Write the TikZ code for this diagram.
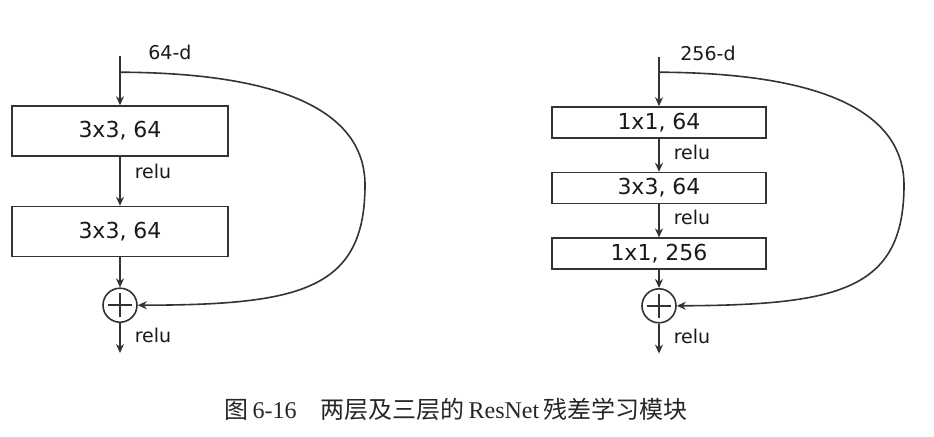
\documentclass[tikz,border=0pt]{standalone}
\usepackage{fontspec}
\setmainfont{DejaVu Sans}
\newfontfamily\cjk{Noto Sans CJK SC}
\newfontfamily\capfont{Liberation Serif}
\usepackage{tikz}
\usetikzlibrary{arrows.meta,positioning}

\begin{document}
\begin{tikzpicture}
  [
  x=0.5pt,y=-0.5pt,
  layer/.style={rectangle,draw=black!80,line width=0.8pt,inner sep=0pt,text=black!90,font=\fontsize{11}{13}\selectfont},
  big layer/.style={layer,minimum width=108pt,minimum height=25pt},
  small layer/.style={layer,minimum width=107pt,minimum height=15.5pt},
  sum/.style={circle,draw=black!80,line width=0.8pt,inner sep=0pt,minimum size=17pt,
    path picture={\draw[black!80,line width=0.8pt]
      ([xshift=-6pt]path picture bounding box.center) -- ([xshift=6pt]path picture bounding box.center)
      ([yshift=-6pt]path picture bounding box.center) -- ([yshift=6pt]path picture bounding box.center);}},
  flow/.style={->,>={Stealth[length=4.5pt,width=4pt]},draw=black!80,line width=0.8pt},
  act/.style={right=7pt,inner sep=0pt,text=black!90,font=\fontsize{9.5}{11}\selectfont},
  dim/.style={inner sep=0pt,text=black!90,font=\fontsize{9.5}{11}\selectfont}
  ]
  \useasboundingbox (0,0) rectangle (934,436);

  % two-layer block
  \node[big layer] (convA1) at (120,131) {3x3, 64};
  \node[big layer] (convA2) [below = 24.5pt of convA1] {3x3, 64};
  \node[sum] (sumA) [below = 15pt of convA2] {};
  \node[coordinate] (inA) [above = 24.5pt of convA1] {};
  \node[coordinate] (splitA) [above = 16.5pt of convA1] {};
  \node[coordinate] (outA) [below = 15pt of sumA] {};
  \node[dim] (dimA) [right = 14pt of inA, yshift=2pt] {64-d};
  \draw[flow] (inA) -- (convA1);
  \draw[flow] (convA1) -- node[act,pos=0.29] {relu} (convA2);
  \draw[flow] (convA2) -- (sumA);
  \draw[flow] (sumA) -- node[act,pos=0.43] {relu} (outA);
  \draw[flow] (splitA) .. controls (300,73) and (365,120) .. (365,185)
    .. controls (365,290) and (300,305) .. (sumA.east);

  % three-layer block
  \node[small layer] (convB1) at (659,122.5) {1x1, 64};
  \node[small layer] (convB2) [below = 16.5pt of convB1] {3x3, 64};
  \node[small layer] (convB3) [below = 16.5pt of convB2] {1x1, 256};
  \node[sum] (sumB) [below = 9pt of convB3] {};
  \node[coordinate] (inB) [above = 24.5pt of convB1] {};
  \node[coordinate] (splitB) [above = 17pt of convB1] {};
  \node[coordinate] (outB) [below = 15pt of sumB] {};
  \node[dim] (dimB) [right = 10.5pt of inB, yshift=2pt] {256-d};
  \draw[flow] (inB) -- (convB1);
  \draw[flow] (convB1) -- node[act,pos=0.41] {relu} (convB2);
  \draw[flow] (convB2) -- node[act,pos=0.38] {relu} (convB3);
  \draw[flow] (convB3) -- (sumB);
  \draw[flow] (sumB) -- node[act,pos=0.42] {relu} (outB);
  \draw[flow] (splitB) .. controls (839,73) and (904,120) .. (904,185)
    .. controls (904,290) and (839,305) .. (sumB.east);

  % caption
  \node[text=black!85,font=\fontsize{12}{14}\selectfont] (caption) at (456,409)
    {{\cjk 图}\,{\capfont 6-16}\quad{\cjk 两层及三层的}\,{\capfont ResNet}\,{\cjk 残差学习模块}};
\end{tikzpicture}
\end{document}
